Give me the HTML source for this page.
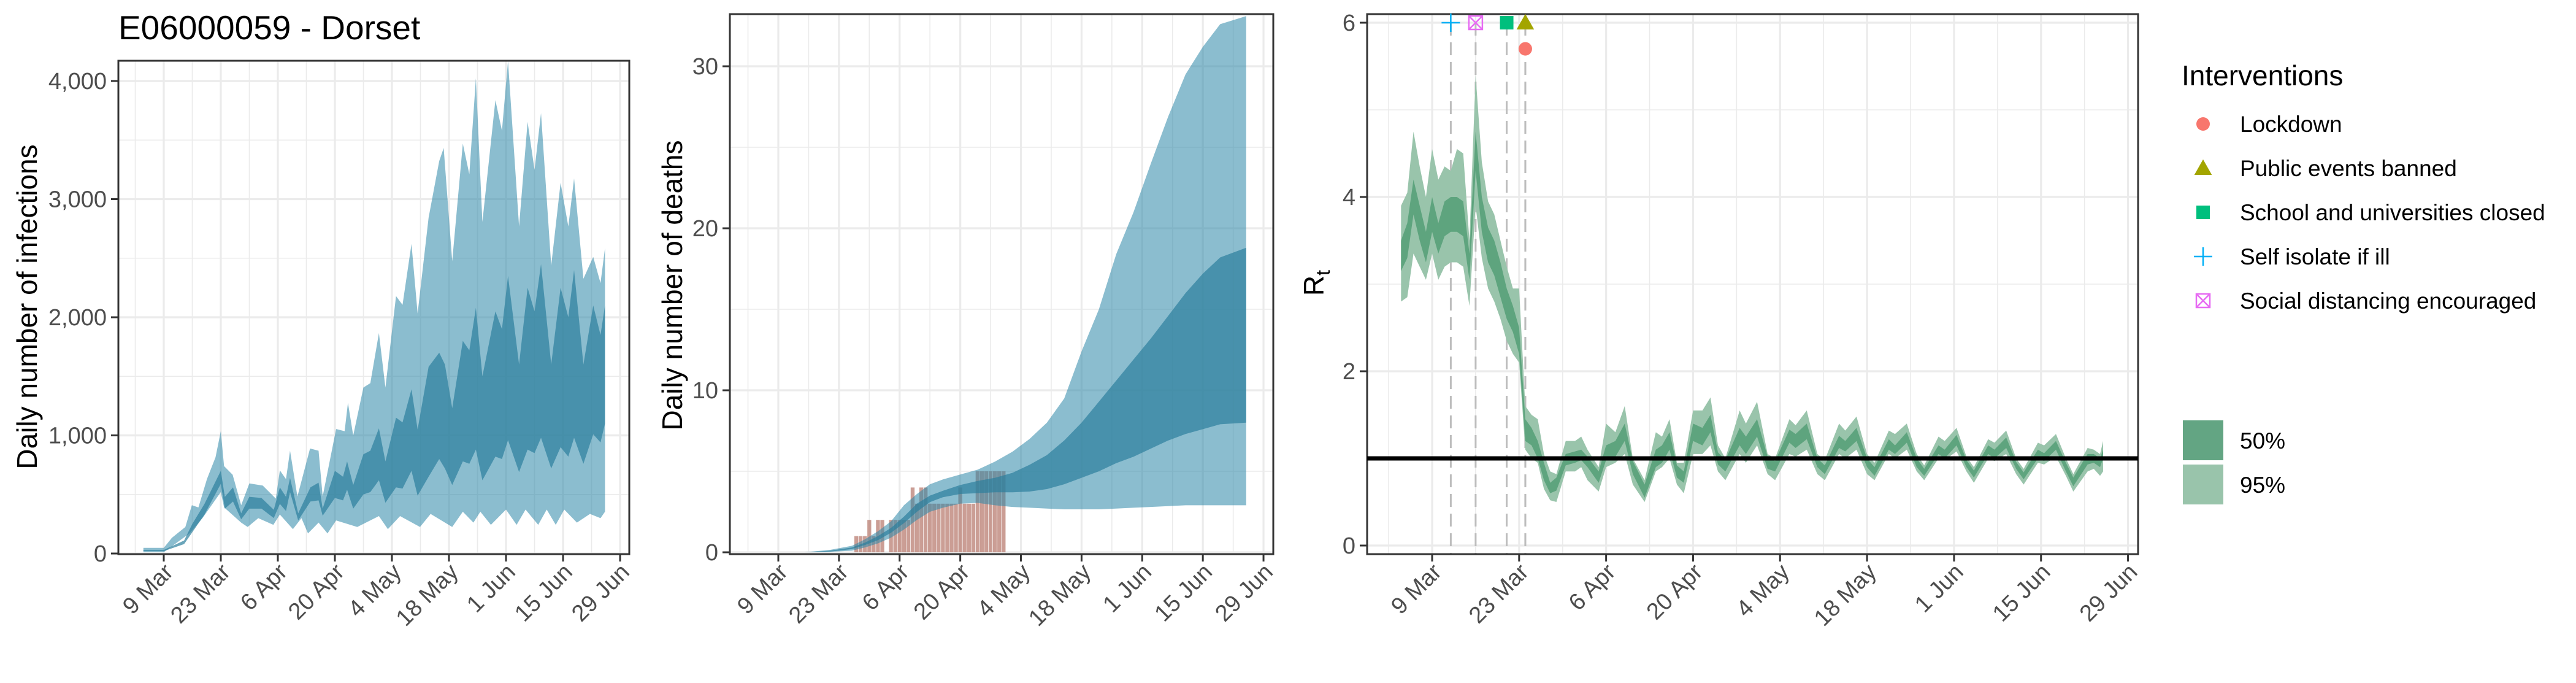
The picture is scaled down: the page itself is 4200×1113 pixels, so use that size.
<!DOCTYPE html>
<html><head><meta charset="utf-8"><style>
html,body{margin:0;padding:0;background:#fff}
svg{display:block;font-family:"Liberation Sans",Arial,sans-serif}
</style></head><body>
<svg id="c" width="4200" height="1113" viewBox="0 0 4200 1113" xmlns="http://www.w3.org/2000/svg"></svg>
<script>
// ---------- data ----------
const tickLabels = ["9 Mar","23 Mar","6 Apr","20 Apr","4 May","18 May","1 Jun","15 Jun","29 Jun"];
const tickDays = [0,14,28,42,56,70,84,98,112];
// infections (day offset from 9 Mar)
const infUpDays = [-5,0,2,5.3,6.9,8.5,10.6,12.7,14,14.8,16.9,19,21,24.3,27.5,28.5,30,31,32.8,35.9,38,39,42.3,44.4,45.2,46.5,49,50.7,52.8,54.4,57,58.6,60.8,62.3,65,67.6,68.7,70.8,73.4,75,76.6,78.2,81.4,83,84.5,87.2,89.3,91,92.6,95.1,97.4,99.3,100.7,103,105.4,107.2,108.3];
const infUp95 = [48,48,133,225,409,390,630,815,1036,740,667,409,594,575,465,704,630,870,483,889,870,483,1054,1036,1276,999,1405,1442,1866,1405,2179,2105,2621,2032,2843,3322,3433,2474,3470,3211,4023,2806,3838,3580,4170,2769,3654,3248,3728,2437,3138,2769,3175,2326,2511,2290,2585];
const infLoDays = [-5,0,6.3,9.5,14,14.8,19,20.6,23.2,26.9,28.5,31.7,33.8,35.4,38,40.2,42.3,47.5,52.8,55,58,62.9,65.5,70.8,73.4,76,77.7,80.3,84,86.6,88.8,91.9,94,96.2,98.3,101.4,104.6,107.2,108.3];
const infLo95 = [11,11,170,299,520,391,262,225,299,243,330,206,299,170,262,170,280,225,317,206,317,225,335,225,354,262,354,243,372,243,372,243,372,243,372,262,335,299,354];
const inf50Days = [-5,0,5,7,10,14,15,17,19,21,24,27,28.5,30,31,33,36,38,39,42,44,45,46.5,49,50.7,52.8,54.4,57,58.6,60.8,62.3,65,67.6,69,70.8,73.4,75,76.6,78.2,81.4,83,84.5,87.2,89.3,91,92.6,95.1,97.4,99.3,100.7,103,105.4,107.2,108.3];
const infHi50 = [30,30,110,250,420,700,480,560,340,480,470,370,560,480,640,340,560,600,380,700,650,780,580,840,870,1060,780,1150,1110,1390,1050,1580,1700,1600,1230,1800,1720,2080,1500,2050,1900,2350,1600,2250,2050,2450,1600,2250,2000,2400,1600,2100,1850,2100];
const infLo50 = [20,20,80,180,330,590,380,440,290,380,380,300,420,360,520,280,440,450,320,470,450,540,380,500,520,620,430,560,550,700,490,650,800,720,580,780,760,880,620,820,800,960,690,880,850,980,720,900,820,980,760,1010,940,1100];
// deaths
const dthDays = [6,12,17,20,23,26,29,32,35,38,42,46,50,54,58,62,66,70,74,78,82,86,90,94,98,102,108];
const dthHi95 = [0,0.15,0.4,0.8,1.3,1.9,2.9,3.6,4.2,4.5,4.8,5.1,5.6,6.2,7.0,8.0,9.5,12.4,15.0,18.4,21.0,24.0,26.9,29.5,31.2,32.6,33.1];
const dthHi50 = [0,0.1,0.3,0.6,1.0,1.5,2.2,3.0,3.5,3.8,4.15,4.4,4.6,4.9,5.4,6.0,6.9,8.0,9.3,10.6,11.9,13.2,14.6,16.0,17.2,18.2,18.8];
const dthLo50 = [0,0.05,0.2,0.45,0.75,1.2,1.8,2.5,3.1,3.4,3.6,3.65,3.7,3.7,3.75,3.9,4.2,4.6,5.0,5.5,5.9,6.4,6.9,7.3,7.6,7.9,8.0];
const dthLo95 = [0,0.03,0.1,0.3,0.55,0.9,1.4,2.0,2.5,2.75,3.0,3.05,2.9,2.8,2.75,2.7,2.65,2.65,2.65,2.7,2.75,2.8,2.85,2.9,2.9,2.9,2.9];
const obsDays = [18,19,20,21,22,23,24,26,27,28,29,30,31,32,33,34,35,36,37,38,39,40,41,42,43,44,45,46,47,48,49,50,51,52];
const obsDeaths = [1,1,1,2,1,2,2,2,2,2,2,2,4,3,4,4,3,3,3,3,3,3,3,4,3,3,3,5,5,5,5,5,5,5];
// Rt
const rtDays = [-5,-4,-3,-2,-1,0,1,2,3,4,5,6,7,8,9,10,11,12,13,14,15,16,17,18,19,20,21.5,23,24,25,26.8,28,29.5,31,32.3,34.2,36,37,38.2,39.4,40.5,42,43.5,44.8,46,47.2,49.5,50.5,52.3,54,55.2,57.5,58.5,60.3,62,63.2,65.5,66.5,68.3,70,71.2,73.5,74.5,76.4,78,79.2,81.5,82.5,84.4,86,87.2,89.5,90.5,92.4,94,95.2,97.5,98.5,100.4,102,103.2,105.5,106.5,107.5,108];
const rtLo50 = [3.15,3.3,3.8,3.5,3.25,3.6,3.35,3.55,3.6,3.6,3.55,3.05,4.3,3.6,3.25,3.1,2.85,2.6,2.45,2.2,1.2,1.15,1.0,0.75,0.6,0.63,0.92,0.95,0.98,0.9,0.72,0.98,1.02,1.2,0.82,0.55,0.9,0.95,1.1,0.78,0.72,1.2,1.15,1.3,0.93,0.85,1.15,1.05,1.25,0.88,0.85,1.18,1.12,1.22,0.9,0.82,1.12,1.08,1.2,0.9,0.8,1.1,1.05,1.18,0.9,0.8,1.05,1.0,1.15,0.9,0.78,1.05,1.0,1.12,0.88,0.76,1.0,0.97,1.1,0.85,0.68,0.93,0.95,0.9,1.0];
const rtHi50 = [3.5,3.7,4.2,3.9,3.6,4.0,3.7,3.95,4.0,4.0,3.95,3.35,4.75,4.0,3.65,3.5,3.25,2.95,2.75,2.5,1.45,1.35,1.2,0.95,0.72,0.78,1.05,1.08,1.1,1.02,0.85,1.15,1.2,1.4,0.97,0.7,1.1,1.15,1.3,0.92,0.85,1.4,1.35,1.5,1.07,0.98,1.35,1.25,1.45,1.02,0.97,1.33,1.28,1.4,1.0,0.92,1.26,1.2,1.35,1.0,0.9,1.22,1.15,1.3,1.0,0.88,1.15,1.1,1.27,0.98,0.86,1.15,1.1,1.24,0.96,0.84,1.1,1.06,1.2,0.95,0.78,1.05,1.05,1.0,1.1];
const rtLo95 = [2.8,2.85,3.35,3.2,3.05,3.35,3.05,3.2,3.25,3.25,3.2,2.75,3.9,3.3,2.95,2.8,2.6,2.35,2.2,2.1,1.1,1.0,0.95,0.65,0.52,0.5,0.85,0.85,0.9,0.75,0.62,0.9,0.95,1.05,0.7,0.5,0.85,0.9,1.0,0.7,0.6,1.05,1.05,1.15,0.85,0.75,1.05,0.95,1.15,0.82,0.75,1.05,1.02,1.1,0.82,0.75,1.05,1.0,1.1,0.82,0.75,1.05,1.0,1.1,0.85,0.75,1.0,0.98,1.08,0.85,0.72,1.0,0.97,1.05,0.82,0.7,0.95,0.93,1.02,0.8,0.62,0.85,0.88,0.8,0.85];
const rtHi95 = [3.9,4.05,4.75,4.35,4.0,4.55,4.2,4.35,4.3,4.55,4.5,3.5,5.4,4.4,3.95,3.8,3.5,3.2,2.95,2.95,1.6,1.5,1.45,1.05,0.85,0.82,1.2,1.2,1.25,1.1,0.9,1.4,1.3,1.6,1.0,0.75,1.3,1.25,1.45,0.95,0.95,1.55,1.55,1.7,1.15,1.0,1.55,1.4,1.65,1.05,1.0,1.45,1.38,1.55,1.05,0.98,1.4,1.32,1.48,1.05,0.95,1.32,1.28,1.4,1.05,0.92,1.25,1.2,1.35,1.02,0.9,1.22,1.18,1.32,1.0,0.88,1.18,1.15,1.28,1.0,0.82,1.12,1.1,1.05,1.2];
const intNames = ["Lockdown","Public events banned","School and universities closed","Self isolate if ill","Social distancing encouraged"];
const intDays = [15,15,12,3,7];
const intRt = [5.7,6,6,6,6];
const intColors = ["#f8766d","#a3a500","#00bf7d","#00b0f6","#e76bf3"];

// ---------- helpers ----------
const NS="http://www.w3.org/2000/svg";
const svg=document.getElementById('c');
function mk(tag,attrs,parent){const e=document.createElementNS(NS,tag);for(const k in attrs)e.setAttribute(k,attrs[k]);(parent||svg).appendChild(e);return e;}
function band(g,days,lo,hi,sx,sy,fill,op){
  let d="M"+days.map((t,i)=>sx(t).toFixed(1)+","+sy(hi[i]).toFixed(1)).join("L");
  d+="L"+days.map((t,i)=>[t,i]).reverse().map(([t,i])=>sx(t).toFixed(1)+","+sy(lo[i]).toFixed(1)).join("L")+"Z";
  return mk('path',{d:d,fill:fill,'fill-opacity':op},g);
}
function band2(g,dH,hi,dL,lo,sx,sy,fill,op){
  let d="M"+dH.map((t,i)=>sx(t).toFixed(1)+","+sy(hi[i]).toFixed(1)).join("L");
  const rev=dL.map((t,i)=>[t,lo[i]]).reverse();
  d+="L"+rev.map(([t,v])=>sx(t).toFixed(1)+","+sy(v).toFixed(1)).join("L")+"Z";
  return mk('path',{d:d,fill:fill,'fill-opacity':op},g);
}
function panel(name,L,R,T,B,x0,xpd,y0,ypu,yMajor,yMinor,yFmt){
  const g=mk('g',{});
  
  
  const sx=d=>x0+d*xpd, sy=v=>y0-v*ypu;
  const grid=mk('g',{},g);
  
  
  yMinor.forEach(v=>mk('line',{x1:L,x2:R,y1:sy(v),y2:sy(v),stroke:'#ebebeb','stroke-width':1.6},grid));
  for(let d=-7;d<=119;d+=14){const x=sx(d);if(x>L&&x<R)mk('line',{x1:x,x2:x,y1:T,y2:B,stroke:'#ebebeb','stroke-width':1.6},grid);}
  yMajor.forEach(v=>mk('line',{x1:L,x2:R,y1:sy(v),y2:sy(v),stroke:'#ebebeb','stroke-width':3.2},grid));
  tickDays.forEach(d=>mk('line',{x1:sx(d),x2:sx(d),y1:T,y2:B,stroke:'#ebebeb','stroke-width':3.2},grid));
  const data=mk('g',{'clip-path':'url(#clip-'+name+')'},g);
  const cp=mk('clipPath',{id:'clip-'+name},g);mk('rect',{x:L,y:T,width:R-L,height:B-T},cp);
  const axes=mk('g',{},g);
  mk('rect',{x:L,y:T,width:R-L,height:B-T,fill:'none',stroke:'#333','stroke-width':3},axes);
  yMajor.forEach(v=>{
    mk('line',{x1:L-12,x2:L,y1:sy(v),y2:sy(v),stroke:'#333','stroke-width':3},axes);
    const t=mk('text',{x:L-19,y:sy(v)+13,'text-anchor':'end','font-size':38,fill:'#4d4d4d'},axes);
    t.textContent=yFmt(v);
    
    
  });
  tickDays.forEach((d,i)=>{
    const x=sx(d);
    mk('line',{x1:x,x2:x,y1:B,y2:B+12,stroke:'#333','stroke-width':3},axes);
    const t=mk('text',{x:x-2,y:B+12,'text-anchor':'end','font-size':38,fill:'#4d4d4d',dy:'0.72em',transform:`rotate(-45 ${x-2} ${B+12})`},axes);
    t.textContent=tickLabels[i];
    
    
  });
  return {g,data,sx,sy,axes};
}
function ytitle(x,y,txt,name){
  const t=mk('text',{x:x,y:y,'text-anchor':'middle','font-size':46,fill:'#000',transform:`rotate(-90 ${x} ${y})`});
  t.textContent=txt;
  
  
  return t;
}

// ---------- title ----------
const title=mk('text',{x:193,y:64,'font-size':55,fill:'#000'});
title.textContent="E06000059 - Dorset";



// ---------- panel 1: infections ----------
const p1=panel('infections-panel',193,1026,99,903,267,6.643,902,0.1925,[0,1000,2000,3000,4000],[500,1500,2500,3500],v=>v.toLocaleString('en-US'));
const b1=band2(p1.data,infUpDays,infUp95,infLoDays,infLo95,p1.sx,p1.sy,'#2c86a8',0.55);


const b2=band(p1.data,inf50Days,infLo50,infHi50,p1.sx,p1.sy,'#2c7f9c',0.7);


ytitle(60,500,"Daily number of infections",'y-axis-title-infections');

// ---------- panel 2: deaths ----------
const p2=panel('deaths-panel',1190,2076,23,903,1269,7.063,900,26.4,[0,10,20,30],[5,15,25],v=>String(v));
obsDays.forEach((d,i)=>{
  const r=mk('rect',{x:p2.sx(d-0.45),y:p2.sy(obsDeaths[i]),width:7.063*0.9,height:p2.sy(0)-p2.sy(obsDeaths[i]),fill:'#b97d72','fill-opacity':0.75},p2.data);
  
  
});
const b3=band(p2.data,dthDays,dthLo95,dthHi95,p2.sx,p2.sy,'#2c86a8',0.55);


const b4=band(p2.data,dthDays,dthLo50,dthHi50,p2.sx,p2.sy,'#2c7f9c',0.7);


ytitle(1112,465,"Daily number of deaths",'y-axis-title-deaths');

// ---------- panel 3: Rt ----------
const p3=panel('rt-panel',2229,3486,23,903,2335,10.13,889,142,[0,2,4,6],[1,3,5],v=>String(v));
intDays.forEach((d,i)=>{
  const l=mk('line',{x1:p3.sx(d),x2:p3.sx(d),y1:p3.sy(6),y2:903,stroke:'#bdbdbd','stroke-width':3,'stroke-dasharray':'21 11'},p3.data);
  
  
});
const b5=band(p3.data,rtDays,rtLo95,rtHi95,p3.sx,p3.sy,'#99c4ab',1);


const b6=band(p3.data,rtDays,rtLo50,rtHi50,p3.sx,p3.sy,'#5ea47e',1);


const ref=mk('line',{x1:2229,x2:3486,y1:p3.sy(1),y2:p3.sy(1),stroke:'#000','stroke-width':7},p3.g);


function marker(kind,x,y,parent){
  const s=11;let e;
  if(kind===0)e=mk('circle',{cx:x,cy:y,r:s,fill:intColors[0]},parent);
  else if(kind===1)e=mk('path',{d:`M${x-s*1.3},${y+s}L${x+s*1.3},${y+s}L${x},${y-s*1.3}Z`,fill:intColors[1]},parent);
  else if(kind===2)e=mk('rect',{x:x-s,y:y-s,width:2*s,height:2*s,fill:intColors[2]},parent);
  else if(kind===3)e=mk('path',{d:`M${x-15},${y}H${x+15}M${x},${y-15}V${y+15}`,stroke:intColors[3],'stroke-width':2.5,fill:'none'},parent);
  else e=mk('path',{d:`M${x-s},${y-s}h${2*s}v${2*s}h${-2*s}ZM${x-s},${y-s}L${x+s},${y+s}M${x+s},${y-s}L${x-s},${y+s}`,stroke:intColors[4],'stroke-width':2.5,fill:'none'},parent);
  return e;
}
intDays.forEach((d,i)=>{
  const m=marker(i,p3.sx(d),p3.sy(intRt[i]),p3.g);
  
  
});
const rt=mk('text',{x:2158,y:461,'text-anchor':'middle','font-size':46,fill:'#000',transform:'rotate(-90 2158 461)'});
rt.innerHTML='R<tspan font-size="32" dy="10">t</tspan>';



// ---------- legend ----------
const lg=mk('g',{});


const lt=mk('text',{x:3557,y:139,'font-size':46,fill:'#000'},lg);
lt.textContent="Interventions";


intNames.forEach((n,i)=>{
  const cy=202+i*72;
  const m=marker(i,3592,cy,lg);
  
  
  const t=mk('text',{x:3652,y:cy+13,'font-size':37,fill:'#000'},lg);
  t.textContent=n;
  
  
});
[['50%','#63a583',685],['95%','#99c4ab',757]].forEach(([lab,col,y])=>{
  const r=mk('rect',{x:3559,y:y,width:66,height:65,fill:col},lg);
  
  
  const t=mk('text',{x:3652,y:y+46,'font-size':37,fill:'#000'},lg);
  t.textContent=lab;
  
  
});
</script>
</body></html>
